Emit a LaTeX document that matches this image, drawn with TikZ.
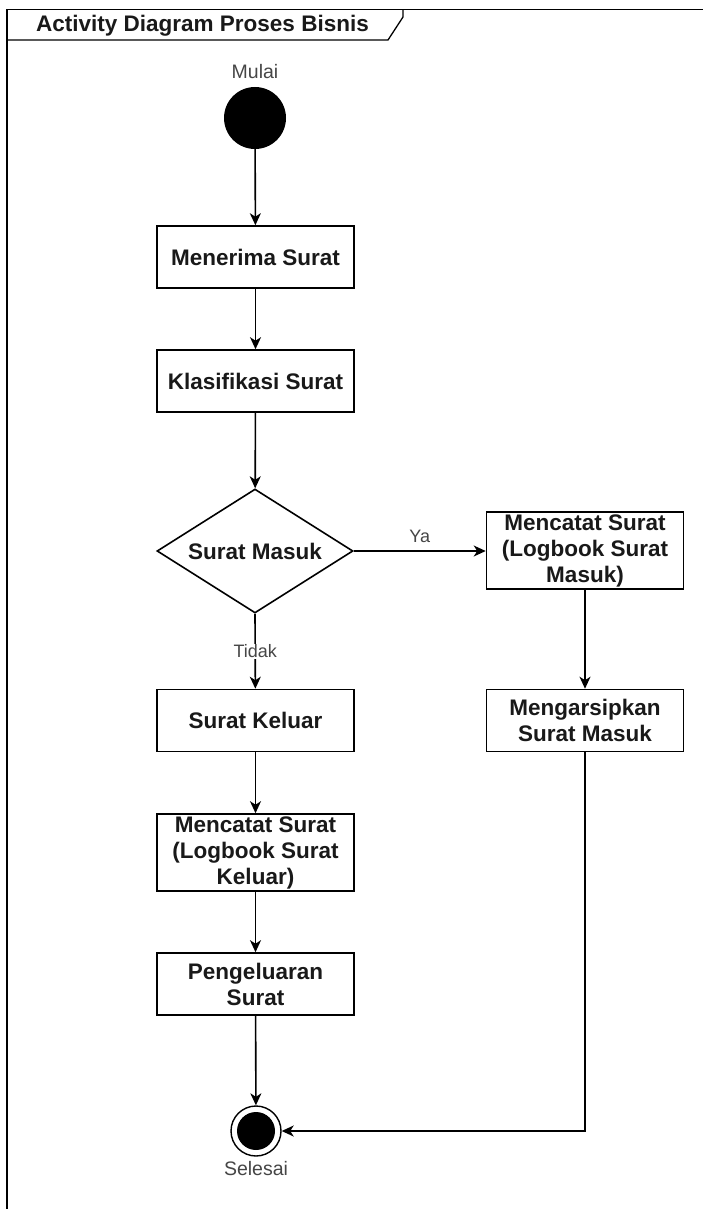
\documentclass[tikz,border=0pt]{standalone}
\usepackage{fontspec}
\setmainfont{Liberation Sans}
\usetikzlibrary{shapes.geometric,arrows.meta}
\definecolor{lbltxt}{RGB}{70,70,70}
\definecolor{boxtxt}{RGB}{25,25,25}
\begin{document}
\begin{tikzpicture}[x=1pt,y=-1pt,
  actbox/.style={draw=black, line width=1.6pt, rectangle, minimum width=197pt, minimum height=62pt, inner sep=0pt, align=center, text=boxtxt, font=\fontsize{22.5}{26}\selectfont\bfseries},
  decbox/.style={diamond, draw=black, line width=1.6pt, minimum width=196pt, minimum height=124pt, inner sep=0pt, aspect=1.58, text=boxtxt, font=\fontsize{22.5}{26}\selectfont\bfseries},
  flow/.style={line width=1.6pt, -{Stealth[length=12pt,width=11pt,inset=3.5pt]}},
  lbl/.style={text=lbltxt, font=\fontsize{19.5}{22}\selectfont},
  edgelbl/.style={text=lbltxt, font=\fontsize{18}{20}\selectfont},
  framestyle/.style={line width=1.6pt}
]
\useasboundingbox (0,0) rectangle (703,1209);
\fill[white] (0,0) rectangle (703,1209);
% frame
\draw[framestyle] (7,1209) -- (7,9.5) -- (703,9.5);
\draw[line width=1.3pt] (7,40) -- (388,40) -- (403,17) -- (403,9.5);
\node[text=boxtxt, font=\fontsize{22.5}{26}\selectfont\bfseries] (title) at (202.5,26) {Activity Diagram Proses Bisnis};

% nodes
\node[circle, fill=black, minimum size=62pt, inner sep=0pt] (start) at (255,118) {};
\node[lbl] (mulai) at (255,72) {Mulai};
\node[actbox] (terima) at (255.5,257) {Menerima Surat};
\node[actbox] (klas) at (255.5,381) {Klasifikasi Surat};
\node[decbox] (dec) at (255,551) {Surat Masuk};
\node[actbox, minimum height=77pt] (catatM) at (585,550.5) {Mencatat Surat\\(Logbook Surat\\Masuk)};
\node[actbox] (arsip) at (585,720.5) {Mengarsipkan\\Surat Masuk};
\node[actbox] (keluar) at (255.5,720.5) {Surat Keluar};
\node[actbox, minimum height=77pt] (catatK) at (255.5,852.5) {Mencatat Surat\\(Logbook Surat\\Keluar)};
\node[actbox] (kirim) at (255.5,984) {Pengeluaran\\Surat};
\node[circle, draw=black, line width=1.4pt, fill=white, minimum size=50pt, inner sep=0pt] (end) at (256,1131) {};
\node[circle, fill=black, minimum size=38pt, inner sep=0pt] (endin) at (end.center) {};
\node[lbl] (selesai) at (256,1169) {Selesai};

% connectors
\draw[flow] (start) -- (terima);
\draw[flow] (terima) -- (klas);
\draw[flow] (klas) -- (dec);
\draw[flow] (dec.east) -- (catatM.west |- dec.east) node[midway, above=4pt, edgelbl] (ya) {Ya};
\draw[flow] (dec.south) -- (keluar) node[midway, fill=white, inner sep=1pt, edgelbl] (tidak) {Tidak};
\draw[flow] (catatM) -- (arsip);
\draw[flow] (keluar) -- (catatK);
\draw[flow] (catatK) -- (kirim);
\draw[flow] (kirim) -- (end);
\draw[flow] (arsip.south) |- (end.east);
\end{tikzpicture}
\end{document}
